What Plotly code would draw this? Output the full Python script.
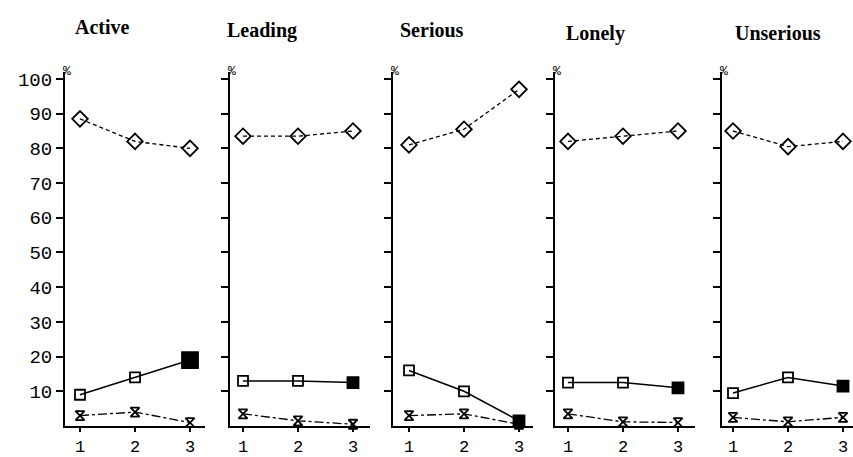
import plotly.graph_objects as go

categories = [1, 2, 3]
tick_labels = ["1", "2", "3"]
panels = ["Active", "Leading", "Serious", "Lonely", "Unserious"]
y_ticks = [10, 20, 30, 40, 50, 60, 70, 80, 90, 100]

diamond_series = [
    [88.5, 82, 80],
    [83.5, 83.5, 85],
    [81, 85.5, 97],
    [82, 83.5, 85],
    [85, 80.5, 82],
]
square_series = [
    [9, 14, 19],
    [13, 13, 12.5],
    [16, 10, 1.5],
    [12.5, 12.5, 11],
    [9.5, 14, 11.5],
]
hourglass_series = [
    [3, 4, 1],
    [3.5, 1.5, 0.5],
    [3, 3.5, 0.5],
    [3.5, 1.2, 1],
    [2.5, 1.2, 2.5],
]

W, H = 853, 457
MT, MB = 72, 29
PLOT_H = H - MT - MB
lefts = [65, 230, 393, 555, 722]
px_per_unit = 55.0
first_tick_offset = [15, 13, 16, 13, 11]
title_x = [102, 262, 432, 595, 778]
title_y = [27, 30, 30, 33, 33]


def py(ypx):
    return (H - MB - ypx) / PLOT_H


fig = go.Figure()
layout = dict(
    width=W, height=H,
    margin=dict(l=0, r=0, t=MT, b=MB),
    paper_bgcolor="white", plot_bgcolor="white",
    showlegend=False,
)
annotations = []
for i, name in enumerate(panels):
    xa = "x" if i == 0 else f"x{i+1}"
    ya = "y" if i == 0 else f"y{i+1}"
    xkey = "xaxis" if i == 0 else f"xaxis{i+1}"
    ykey = "yaxis" if i == 0 else f"yaxis{i+1}"
    left = lefts[i]
    right = min(left + 140, W)
    x0 = 1 - first_tick_offset[i] / px_per_unit
    x1 = x0 + (right - left) / px_per_unit
    layout[xkey] = dict(
        domain=[left / W, right / W], range=[x0, x1], anchor=ya,
        tickvals=categories, ticktext=tick_labels,
        showline=True, linecolor="black", linewidth=2,
        ticks="outside", ticklen=4, tickwidth=1.5, tickcolor="black",
        showgrid=False, zeroline=False,
        tickfont=dict(family="Liberation Mono", size=17, color="black"),
    )
    layout[ykey] = dict(
        domain=[0, 1], range=[0, 102], anchor=xa,
        tickvals=y_ticks,
        ticktext=[str(v) for v in y_ticks] if i == 0 else [""] * len(y_ticks),
        showticklabels=(i == 0),
        showline=True, linecolor="black", linewidth=2,
        ticks="outside", ticklen=7, tickwidth=1.5, tickcolor="black",
        showgrid=False, zeroline=False,
        tickfont=dict(family="Liberation Mono", size=19, color="black"),
    )

    fig.add_trace(go.Scatter(
        x=categories, y=diamond_series[i], xaxis=xa, yaxis=ya,
        mode="lines+markers",
        line=dict(color="black", width=1.3, dash="4px,3px"),
        marker=dict(symbol="diamond-open", size=12, color="black", opacity=1,
                    line=dict(width=1.8, color="black")),
        cliponaxis=False,
    ))
    fig.add_trace(go.Scatter(
        x=categories, y=square_series[i], xaxis=xa, yaxis=ya,
        mode="lines+markers",
        line=dict(color="black", width=1.5),
        marker=dict(symbol=["square-open", "square-open", "square"],
                    size=[10, 10, 16 if i == 0 else 11], color="#000000",
                    opacity=1, line=dict(width=1.8, color="#000000")),
        cliponaxis=False,
    ))
    fig.add_trace(go.Scatter(
        x=categories, y=hourglass_series[i], xaxis=xa, yaxis=ya,
        mode="lines+markers",
        line=dict(color="black", width=1.3, dash="dashdot"),
        marker=dict(symbol="hourglass-open", size=9, color="black", opacity=1,
                    line=dict(width=1.8, color="black")),
        cliponaxis=False,
    ))

    annotations.append(dict(
        text=f"<b>{name}</b>", x=title_x[i] / W, y=py(title_y[i]),
        xref="paper", yref="paper", showarrow=False,
        xanchor="center", yanchor="middle",
        font=dict(family="Liberation Serif", size=20, color="black"),
    ))
    annotations.append(dict(
        text="%", x=(left + 2) / W, y=py(71),
        xref="paper", yref="paper", showarrow=False,
        xanchor="center", yanchor="middle",
        font=dict(family="Liberation Mono", size=13, color="black"),
    ))

layout["annotations"] = annotations
fig.update_layout(**layout)
fig.write_html("out.html")
